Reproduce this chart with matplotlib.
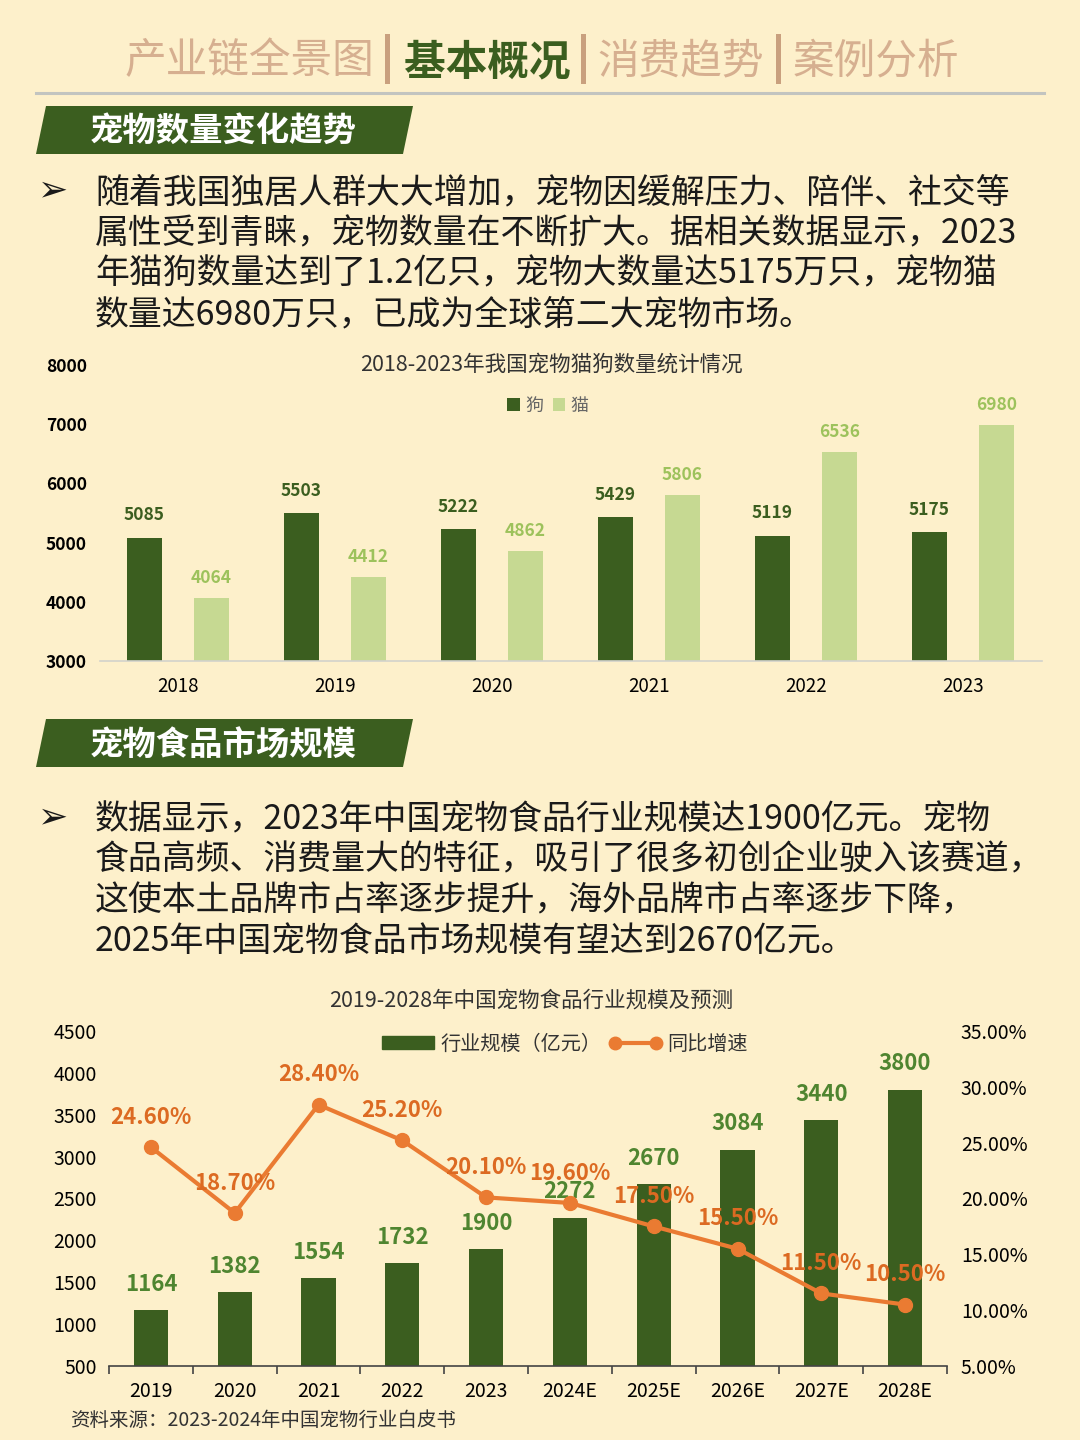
import matplotlib
matplotlib.use("Agg")
import matplotlib.pyplot as plt
from matplotlib.patches import Polygon, Rectangle, Patch
from matplotlib.lines import Line2D
from matplotlib.ticker import FixedLocator, FuncFormatter

plt.rcParams['font.family'] = ['Noto Sans CJK SC', 'DejaVu Sans']

# -------------------------------------------------
# data
# -------------------------------------------------
years1 = ["2018", "2019", "2020", "2021", "2022", "2023"]
dogs = [5085, 5503, 5222, 5429, 5119, 5175]
cats = [4064, 4412, 4862, 5806, 6536, 6980]

years2 = ["2019", "2020", "2021", "2022", "2023", "2024E", "2025E", "2026E", "2027E", "2028E"]
market = [1164, 1382, 1554, 1732, 1900, 2272, 2670, 3084, 3440, 3800]
growth = [24.6, 18.7, 28.4, 25.2, 20.1, 19.6, 17.5, 15.5, 11.5, 10.5]

header_tabs = ["产业链全景图", "基本概况", "消费趋势", "案例分析"]
para1 = ["随着我国独居人群大大增加，宠物因缓解压力、陪伴、社交等",
         "属性受到青睐，宠物数量在不断扩大。据相关数据显示，2023",
         "年猫狗数量达到了1.2亿只，宠物大数量达5175万只，宠物猫",
         "数量达6980万只，已成为全球第二大宠物市场。"]
para2 = ["数据显示，2023年中国宠物食品行业规模达1900亿元。宠物",
         "食品高频、消费量大的特征，吸引了很多初创企业驶入该赛道，",
         "这使本土品牌市占率逐步提升，海外品牌市占率逐步下降，",
         "2025年中国宠物食品市场规模有望达到2670亿元。"]

# colours
BG = "#FDF0CB"
DARK = "#3B5E1F"
LIGHT = "#C6D992"
CAT_LBL = "#9DC25C"
TAN = "#D6AF90"
ORANGE = "#EA7B32"
ORANGE_LBL = "#DC6A22"
GREEN_LBL = "#4F8530"
TXT = "#1A1A1A"

W, H = 1080, 1440
fig = plt.figure(figsize=(10.8, 14.4), dpi=100, facecolor=BG)


def fx(x):
    return x / W


def fy(y):
    return 1 - y / H


# -------------------------------------------------
# header
# -------------------------------------------------
tab_x = [249, 487, 681, 876]
for i, (t, x) in enumerate(zip(header_tabs, tab_x)):
    active = i == 1
    fig.text(fx(x), fy(62), t, ha="center", va="center", fontsize=30,
             color=DARK if active else TAN, fontweight="bold" if active else "normal")
for x in [387, 583, 778]:
    fig.add_artist(Rectangle((fx(x - 2.5), fy(84)), 5 / W, 50 / H,
                             transform=fig.transFigure, color="#C9A07E", lw=0))
fig.add_artist(Line2D([fx(36), fx(1044)], [fy(93), fy(93)], transform=fig.transFigure,
                      color="#C2C4C0", lw=2.2))


def banner(y_top, text):
    pts = [(46, y_top), (413, y_top), (403, y_top + 48), (36, y_top + 48)]
    fig.add_artist(Polygon([(fx(a), fy(b)) for a, b in pts], closed=True,
                           transform=fig.transFigure, color=DARK, lw=0))
    fig.text(fx(90), fy(y_top + 26), text, ha="left", va="center", fontsize=24,
             color="white", fontweight="bold")


def paragraph(lines, ys):
    fig.text(fx(38), fy(ys[0]), "➢", ha="left", va="center", fontsize=26,
             color=TXT, fontweight="bold", family=["DejaVu Sans"])
    for line, y in zip(lines, ys):
        fig.text(fx(95), fy(y + 3), line, ha="left", va="center", fontsize=24.4, color=TXT)


banner(106, "宠物数量变化趋势")
paragraph(para1, [190, 231, 271, 312])
banner(719, "宠物食品市场规模")
paragraph(para2, [817, 857, 898, 938])

# -------------------------------------------------
# chart 1: dogs and cats
# -------------------------------------------------
ax1 = fig.add_axes([fx(99.5), fy(661), 942 / W, 296 / H])
ax1.set_facecolor("none")
x1 = list(range(len(years1)))
bw = 0.22
xd = [i - 0.213 for i in x1]
xc = [i + 0.213 for i in x1]
ax1.bar(xd, dogs, width=bw, color=DARK, label="狗")
ax1.bar(xc, cats, width=bw, color=LIGHT, label="猫")
for x, v in zip(xd, dogs):
    ax1.annotate(str(v), (x, v), xytext=(0, 16), textcoords="offset points",
                 ha="center", va="center", fontsize=12.5, fontweight="bold", color=DARK)
for x, v in zip(xc, cats):
    ax1.annotate(str(v), (x, v), xytext=(0, 14.5), textcoords="offset points",
                 ha="center", va="center", fontsize=12.5, fontweight="bold", color=CAT_LBL)
ax1.set_xlim(-0.5, len(years1) - 0.5)
ax1.set_ylim(3000, 8000)
ax1.set_yticks(range(3000, 8001, 1000))
ax1.set_xticks(x1)
ax1.set_xticklabels(years1, fontsize=13.5)
for lab in ax1.get_yticklabels():
    lab.set_fontweight("bold")
    lab.set_fontsize(12.5)
ax1.tick_params(axis="y", length=0, pad=9)
ax1.tick_params(axis="x", length=0, pad=11)
for s in ["top", "right", "left"]:
    ax1.spines[s].set_visible(False)
ax1.spines["bottom"].set_color("#D2D2CC")
ax1.spines["bottom"].set_linewidth(1.2)

fig.text(fx(551), fy(365), "2018-2023年我国宠物猫狗数量统计情况", ha="center", va="center",
         fontsize=15.5, color="#333333")
ax1.legend(loc="center", bbox_to_anchor=(fx(548), fy(406)), bbox_transform=fig.transFigure,
           ncol=2, frameon=False, handlelength=0.7, handleheight=0.7, handletextpad=0.3,
           columnspacing=0.5, fontsize=13, labelcolor="#666666")

# -------------------------------------------------
# chart 2: pet food market
# -------------------------------------------------
ax2 = fig.add_axes([fx(109), fy(1366), 838 / W, 335 / H])
ax2.set_facecolor("none")
x2 = list(range(len(years2)))
ax2.bar(x2, market, width=0.41, color=DARK, label="行业规模（亿元）", zorder=2)
for x, v in zip(x2, market):
    ax2.annotate(str(v), (x, v), xytext=(0, 18.5), textcoords="offset points",
                 ha="center", va="center", fontsize=16, fontweight="bold", color=GREEN_LBL,
                 zorder=5)
ax2.set_xlim(-0.5, len(years2) - 0.5)
ax2.set_ylim(500, 4500)
ax2.set_yticks(range(500, 4501, 500))
ax2.set_xticks(x2)
ax2.set_xticklabels(years2, fontsize=14)
ax2.xaxis.set_minor_locator(FixedLocator([i - 0.5 for i in range(len(years2) + 1)]))
ax2.tick_params(axis="x", which="major", length=0, pad=11)
ax2.tick_params(axis="x", which="minor", length=6, width=1.2, color="#444444", direction="out")
ax2.tick_params(axis="y", length=0, pad=9, labelsize=14)
for s in ["top", "right", "left"]:
    ax2.spines[s].set_visible(False)
ax2.spines["bottom"].set_color("#444444")
ax2.spines["bottom"].set_linewidth(1.2)

ax3 = ax2.twinx()
ax3.plot(x2, [g / 100 for g in growth], color=ORANGE, lw=3, marker="o", markersize=10,
         label="同比增速", zorder=3)
for x, g in zip(x2, growth):
    ax3.annotate(f"{g:.2f}%", (x, g / 100), xytext=(0, 21.5), textcoords="offset points",
                 ha="center", va="center", fontsize=16, fontweight="bold", color=ORANGE_LBL)
ax3.set_ylim(0.05, 0.35)
ax3.set_yticks([0.05, 0.10, 0.15, 0.20, 0.25, 0.30, 0.35])
ax3.yaxis.set_major_formatter(FuncFormatter(lambda v, p: f"{v * 100:.2f}%"))
ax3.tick_params(axis="y", length=0, pad=10, labelsize=14)
for s in ["top", "right", "left", "bottom"]:
    ax3.spines[s].set_visible(False)

fig.text(fx(531), fy(1001), "2019-2028年中国宠物食品行业规模及预测", ha="center", va="center",
         fontsize=15.5, color="#333333")
handles = [Patch(color=DARK), Line2D([], [], color=ORANGE, lw=3, marker="o", markersize=9)]
ax3.legend(handles, ["行业规模（亿元）", "同比增速"], loc="center",
           bbox_to_anchor=(fx(565), fy(1044)), bbox_transform=fig.transFigure, ncol=2,
           frameon=False, numpoints=2, handlelength=2.6, handleheight=0.6, handletextpad=0.3,
           columnspacing=0.4, fontsize=14.5, labelcolor="#333333")

fig.text(fx(70), fy(1420), "资料来源：2023-2024年中国宠物行业白皮书", ha="left", va="center",
         fontsize=14, color="#333333")

fig.savefig("out.png", dpi=100, facecolor=BG)
